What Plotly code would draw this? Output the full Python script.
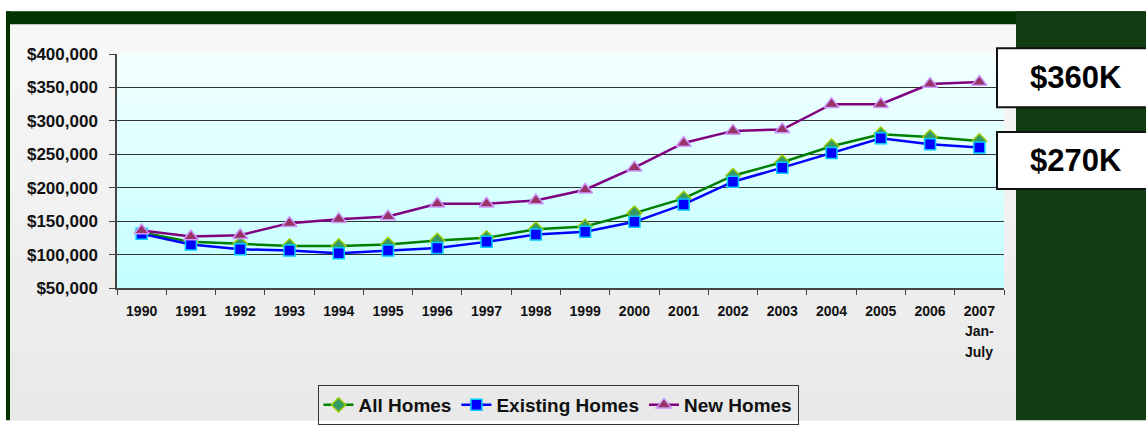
import plotly.graph_objects as go

years = ["1990", "1991", "1992", "1993", "1994", "1995", "1996", "1997", "1998",
         "1999", "2000", "2001", "2002", "2003", "2004", "2005", "2006", "2007"]
all_homes = [133000, 119000, 116000, 113000, 113000, 115000, 121000, 125000, 138000,
             142000, 162000, 184000, 218000, 238000, 262000, 280000, 276000, 270000]
existing_homes = [131000, 115000, 108000, 106000, 102000, 106000, 110000, 119000, 130000,
                  134000, 149000, 175000, 209000, 230000, 252000, 274000, 265000, 260000]
new_homes = [136000, 127000, 129000, 147000, 153000, 157000, 176000, 176000, 181000,
             197000, 230000, 267000, 285000, 287000, 325000, 325000, 355000, 358000]
y_ticks = [50000, 100000, 150000, 200000, 250000, 300000, 350000, 400000]
callouts = ["$360K", "$270K"]
last_note = ["Jan-", "July"]

W, H = 1146, 437
L, R, T, B = 117, 1004, 54, 300
PW, PH = R - L, B - T


def px(x):
    return (x - L) / PW


def py(y):
    return (B - y) / PH


FONT = "Liberation Sans"
shapes = []


def rect(x0, y0, x1, y1, color, layer="below", line=None):
    d = dict(type="rect", xref="paper", yref="paper",
             x0=px(x0), x1=px(x1), y0=py(y1), y1=py(y0),
             fillcolor=color, layer=layer,
             line=line if line else dict(width=0))
    shapes.append(d)


def lerp(c0, c1, t):
    return "rgb(%d,%d,%d)" % tuple(round(a + (b - a) * t) for a, b in zip(c0, c1))


# dark green frame
rect(6, 9, W + 2, 23, "#003300")
rect(6, 9, 10, H + 2, "#003300")
rect(1016, 9, W + 2, H + 2, "#113c11")
# grey panel gradient
n = 12
for i in range(n):
    y0 = 23 + (H + 2 - 23) * i / n
    y1 = 23 + (H + 2 - 23) * (i + 1) / n + 0.5
    rect(10, y0, 1016, y1, lerp((247, 247, 247), (233, 233, 233), i / (n - 1)))
# plot area gradient
n = 24
for i in range(n):
    y0 = T + PH * i / n
    y1 = T + PH * (i + 1) / n + 0.5
    rect(L, y0, R, y1, lerp((242, 255, 255), (196, 255, 255), i / (n - 1)))

# callout boxes
rect(997, 48, W + 5, 110, "white", layer="above", line=dict(color="#111111", width=2))
rect(997, 136, W + 5, 196, "white", layer="above", line=dict(color="#111111", width=2))

fig = go.Figure()
fig.add_trace(go.Scatter(
    x=years, y=all_homes, name="<b>All Homes</b>", mode="lines+markers",
    line=dict(color="#008000", width=2.5),
    marker=dict(symbol="diamond", size=11, color="#339966",
                line=dict(color="#99cc00", width=1.5))))
fig.add_trace(go.Scatter(
    x=years, y=existing_homes, name="<b>Existing Homes</b>", mode="lines+markers",
    line=dict(color="#0000ff", width=2.5),
    marker=dict(symbol="square", size=11, color="#0000ff",
                line=dict(color="#00ccff", width=1.5))))
fig.add_trace(go.Scatter(
    x=years, y=new_homes, name="<b>New Homes</b>", mode="lines+markers",
    line=dict(color="#800080", width=2.5),
    marker=dict(symbol="triangle-up", size=13, color="#993366",
                line=dict(color="#cc99ff", width=1.5))))

last_idx = len(years) - 1
ann_common = dict(showarrow=False, xanchor="center", yanchor="middle")
annotations = [
    dict(text="<b>%s</b>" % callouts[0], xref="paper", yref="paper",
         x=px(1076), y=py(79),
         font=dict(family=FONT, size=31, color="black"), **ann_common),
    dict(text="<b>%s</b>" % callouts[1], xref="paper", yref="paper",
         x=px(1076), y=py(166),
         font=dict(family=FONT, size=31, color="black"), **ann_common),
    dict(text="<b>%s</b>" % last_note[0], xref="x", yref="paper",
         x=last_idx, y=py(345),
         font=dict(family=FONT, size=14, color="#111111"), **ann_common),
    dict(text="<b>%s</b>" % last_note[1], xref="x", yref="paper",
         x=last_idx, y=py(367),
         font=dict(family=FONT, size=14, color="#111111"), **ann_common),
]

fig.update_layout(
    width=W, height=H,
    margin=dict(l=L, r=W - R, t=T, b=H - B, pad=0),
    paper_bgcolor="white",
    plot_bgcolor="rgba(0,0,0,0)",
    shapes=shapes,
    annotations=annotations,
    font=dict(family=FONT, color="#111111"),
    showlegend=True,
    legend=dict(orientation="h", x=px(558), xanchor="center",
                y=py(402), yanchor="top",
                bgcolor="rgba(0,0,0,0)", bordercolor="#333333", borderwidth=1,
                font=dict(family=FONT, size=19, color="#111111"),
                itemwidth=30, tracegroupgap=0),
    xaxis=dict(type="category", range=[-0.5, len(years) - 0.5],
               tickson="boundaries", ticks="outside", ticklen=5,
               tickcolor="#444444", showline=True, linecolor="#444444",
               linewidth=1.5, showgrid=False, fixedrange=True,
               tickvals=years, ticktext=["<b>%s</b>" % y for y in years],
               tickfont=dict(family=FONT, size=14, color="#111111"),
               ticklabelstandoff=9),
    yaxis=dict(range=[y_ticks[0], y_ticks[-1]], tickvals=y_ticks,
               ticktext=["<b>$%s</b>" % format(v, ",") for v in y_ticks],
               ticks="outside", ticklen=6, tickcolor="#444444",
               showline=True, linecolor="#444444", linewidth=1.5,
               showgrid=True, gridcolor="#333333", gridwidth=1,
               zeroline=False, fixedrange=True,
               tickfont=dict(family=FONT, size=17, color="#111111"),
               ticklabelstandoff=8),
)

fig.write_html("out.html", config={"displayModeBar": False},
               post_script="document.body.style.margin='0';document.body.style.overflow='hidden';")
